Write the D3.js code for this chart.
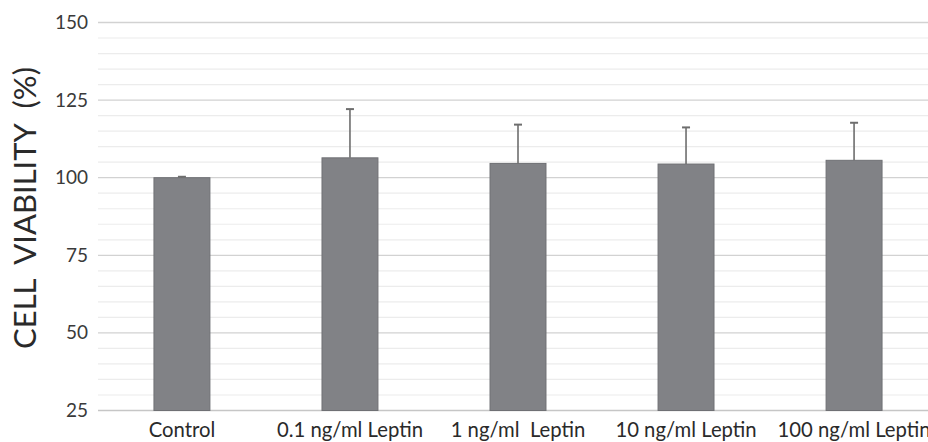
<!DOCTYPE html>
<html>
<head>
<meta charset="utf-8">
<script src="https://cdn.jsdelivr.net/npm/d3@7"></script>
<style>
  html, body { margin: 0; padding: 0; background: #fff; overflow: hidden; }
  svg { display: block; }
</style>
</head>
<body>
<svg id="chart" width="928" height="442"></svg>
<script>
// Treatment groups and measured cell viability (% of control)
const categories = ["Control", "0.1 ng/ml Leptin", "1 ng/ml  Leptin", "10 ng/ml Leptin", "100 ng/ml Leptin"];
const viability = [100, 106.4, 104.6, 104.4, 105.6];
const errorUp = [0.3, 15.7, 12.5, 11.8, 12.1];
const yTicks = [25, 50, 75, 100, 125, 150];
const yMinorTicks = d3.range(25, 151, 5);

const svg = d3.select("#chart");
const margin = { left: 98, top: 22.5, bottom: 31.5 };
const plotW = 840;
const plotH = 442 - margin.top - margin.bottom;
const font = "Lato, 'Open Sans', sans-serif";

const x = d3.scaleBand().domain(categories).range([margin.left, margin.left + plotW]).paddingInner(0.667).paddingOuter(0.333);
const y = d3.scaleLinear().domain([25, 150]).range([margin.top + plotH, margin.top]);

// minor gridlines
svg.append("g").selectAll("line").data(yMinorTicks.filter(v => v % 25 !== 0)).join("line")
  .attr("x1", margin.left).attr("x2", margin.left + plotW)
  .attr("y1", d => y(d)).attr("y2", d => y(d))
  .attr("stroke", "#ececec").attr("stroke-width", 1.2);

// major gridlines
svg.append("g").selectAll("line").data(yTicks).join("line")
  .attr("x1", margin.left).attr("x2", margin.left + plotW)
  .attr("y1", d => y(d)).attr("y2", d => y(d))
  .attr("stroke", d => d === 25 ? "#c6c6c6" : "#d2d2d2").attr("stroke-width", 1.3);

// y axis labels
const yAxis = d3.axisLeft(y).tickValues(yTicks).tickSize(0).tickPadding(10);
const gy = svg.append("g").attr("transform", `translate(${margin.left},0)`).call(yAxis);
gy.select(".domain").remove();
gy.selectAll("text").attr("font-family", font).attr("font-size", 19).attr("fill", "#3a3a3a");

// x axis labels (the last one runs past the right edge of the figure)
const xAxis = d3.axisBottom(x).tickSize(0).tickPadding(12);
const gx = svg.append("g").attr("transform", `translate(0,${y(25)})`).call(xAxis);
gx.select(".domain").remove();
gx.selectAll("text").attr("font-family", font).attr("font-size", 20.3).attr("fill", "#2a2a2a")
  .style("white-space", "pre");

// bars
svg.append("g").selectAll("rect").data(categories).join("rect")
  .attr("x", d => x(d)).attr("width", x.bandwidth())
  .attr("y", (d, i) => y(viability[i]))
  .attr("height", (d, i) => y(25) - y(viability[i]))
  .attr("fill", "#818286").attr("stroke", "#6f7074").attr("stroke-width", 1);

// error bars (upper only)
const eb = svg.append("g").attr("stroke", "#6e6e6e").attr("stroke-width", 1.6);
categories.forEach((c, i) => {
  const cx = x(c) + x.bandwidth() / 2;
  const top = y(viability[i] + errorUp[i]);
  eb.append("line").attr("x1", cx).attr("x2", cx).attr("y1", y(viability[i])).attr("y2", top);
  eb.append("line").attr("x1", cx - 4).attr("x2", cx + 4).attr("y1", top).attr("y2", top).attr("stroke-width", 2);
});

// y axis title
svg.append("text")
  .attr("transform", `translate(36,208) rotate(-90)`)
  .attr("text-anchor", "middle")
  .attr("font-family", font)
  .attr("font-size", 31)
  .attr("fill", "#2a2a2a")
  .style("white-space", "pre")
  .text("CELL  VIABILITY  (%)");
</script>
</body>
</html>
